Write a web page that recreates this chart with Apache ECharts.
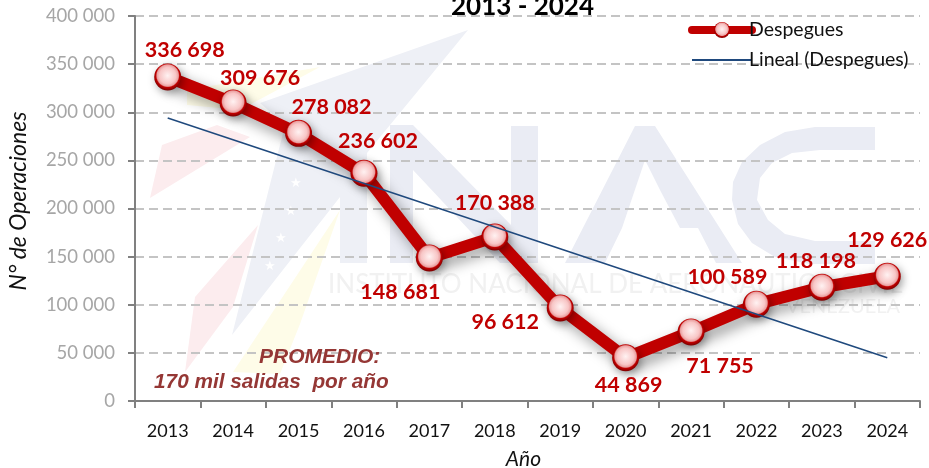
<!DOCTYPE html>
<html><head><meta charset="utf-8">
<style>html,body{margin:0;padding:0;background:#fff}#c{width:929px;height:468px}</style>
<script src="https://cdn.jsdelivr.net/npm/echarts@6/dist/echarts.min.js"></script>
</head><body><div id="c"></div>
<script>
const years=['2013','2014','2015','2016','2017','2018','2019','2020','2021','2022','2023','2024'];
const despegues=[336698,309676,278082,236602,148681,170388,96612,44869,71755,100589,118198,129626];
const lineal=[294000,null,null,null,null,null,null,null,null,null,null,45000];
const labelOffsets=[[17,-27],[27,-25],[33,-26],[14,-32],[-29,34],[0,-34],[-55,14],[3,27],[29,34],[-29,-27],[-6,-26],[0,-36]];
const fmt=v=>String(v).replace(/\B(?=(\d{3})+$)/g,' ');
const poly=(pts,fill)=>({type:'polygon',silent:true,z:-10,shape:{points:pts},style:{fill}});
const wm=(x,y,text,size,fill)=>({type:'text',silent:true,z:-10,x,y,style:{text,fill,font:`${size}px Lato`,verticalAlign:'middle'}});
const BLUE='#eaecf4',SWOOSH='#eef0f6',RED='#fcecee',YEL='#fefce8',GR='#f1f1f1';
const chart=echarts.init(document.getElementById('c'));
chart.setOption({
 animation:false,
 textStyle:{fontFamily:'Lato'},
 title:{text:'2013 - 2024',left:446,top:-11,textStyle:{fontFamily:'Lato',fontWeight:'bold',fontSize:26,color:'#000'}},
 grid:{left:135,right:9,top:16,bottom:67,outerBoundsMode:'none'},
 legend:{orient:'vertical',left:683,top:15,itemWidth:60,itemHeight:20,itemGap:10,
  textStyle:{fontFamily:'Lato',fontSize:19.5,color:'#111',padding:[0,0,0,-8]},
  data:[{name:'Despegues',lineStyle:{width:8,cap:'round',color:'#c00000'}},
        {name:'Lineal (Despegues)',icon:'path://M0 0H60V2H0Z'}]},
 graphic:[
  poly([[150,198],[162,145],[217,125],[250,137]],RED),
  poly([[195,297],[258,225],[233,307],[185,372]],RED),
  poly([[187,105],[187,90],[320,67],[240,110]],YEL),
  poly([[233,372],[340,210],[300,324],[280,374]],YEL),
  poly([[468,30],[260,103],[285,125],[232,335],[340,197],[340,263],[367,263],[367,153]],SWOOSH),
  poly([[390,125],[413,125],[511,225],[511,263],[500,263],[413,170],[413,263],[390,263]],BLUE),
  poly([[511,126],[538,126],[538,263],[511,263]],BLUE),
  poly([[635,126],[655,126],[742,263],[716,263],[698,228],[622,228],[605,263],[565,263]],BLUE),
  poly([[875,127],[815,127],[785,132],[760,145],[742,162],[733,182],[732,200],[738,224],[752,243],[775,257],[810,264],[875,264],[875,241],[815,241],[785,234],[768,220],[757,200],[760,178],[772,163],[792,153],[820,150],[875,150]],BLUE),
  poly([[645,160],[660,190],[680,228],[622,228]],'#ffffff'),
  wm(290,183,'★',13,'#ffffff'),wm(285,211,'★',13,'#ffffff'),wm(275,238,'★',13,'#ffffff'),wm(264,266,'★',13,'#ffffff'),
  wm(328,285,'INSTITUTO NACIONAL DE AERONÁUTICA CIVIL',26,GR),
  wm(786,307,'VENEZUELA',20,GR),
  {type:'text',silent:true,z:5,x:259,y:357,style:{text:'PROMEDIO:',fill:'#953735',font:'italic bold 21px "Liberation Sans"',verticalAlign:'middle'}},
  {type:'text',silent:true,z:5,x:154,y:382,style:{text:'170 mil salidas  por año',fill:'#953735',font:'italic bold 20.8px "Liberation Sans"',verticalAlign:'middle'}}
 ],
 xAxis:{type:'category',data:years,boundaryGap:true,name:'Año',nameLocation:'middle',nameGap:48,
  nameTextStyle:{fontFamily:'Lato',fontStyle:'italic',fontSize:21,color:'#111',padding:[0,8,0,0]},
  axisLine:{lineStyle:{color:'#808080',width:2}},
  axisTick:{show:true,length:7,alignWithLabel:false,lineStyle:{color:'#808080',width:2}},
  axisLabel:{color:'#111',fontSize:18,margin:21,fontFamily:'Lato'},splitLine:{show:false}},
 yAxis:{type:'value',min:0,max:400000,interval:50000,name:'N° de Operaciones',nameLocation:'middle',nameGap:105,nameRotate:90,
  nameTextStyle:{fontFamily:'Lato',fontStyle:'italic',fontSize:23,color:'#111',padding:[0,0,0,15]},
  axisLine:{show:true,lineStyle:{color:'#808080',width:2}},
  axisTick:{show:true,length:7,lineStyle:{color:'#808080',width:2}},
  axisLabel:{color:'#a6a6a6',fontSize:18.5,margin:20,fontFamily:'Lato',formatter:fmt},
  splitLine:{show:true,lineStyle:{color:'#c4c4c4',type:[9,5],width:2}}},
 series:[
  {name:'Despegues',type:'line',z:3,data:despegues.map((v,i)=>({value:v,label:{offset:labelOffsets[i]}})),
   symbol:'circle',symbolSize:27,showAllSymbols:true,
   lineStyle:{color:'#c00000',width:12,shadowColor:'rgba(0,0,0,.4)',shadowBlur:14,shadowOffsetX:5,shadowOffsetY:6},
   itemStyle:{color:{type:'radial',x:.5,y:.45,r:.55,colorStops:[{offset:0,color:'#fff2f2'},{offset:.55,color:'#f8c6c6'},{offset:.72,color:'#e9a0a0'},{offset:.8,color:'#c00000'},{offset:1,color:'#7a0000'}]},
    borderWidth:0,shadowColor:'rgba(0,0,0,.35)',shadowBlur:8,shadowOffsetX:2,shadowOffsetY:3},
   label:{show:true,position:'inside',color:'#c00000',fontWeight:'bold',fontSize:21.5,fontFamily:'Lato',formatter:p=>fmt(p.value)}},
  {name:'Lineal (Despegues)',type:'line',z:4,data:lineal,connectNulls:true,symbol:'none',showSymbol:false,
   lineStyle:{color:'#1f497d',width:1.5},itemStyle:{color:'#1f497d'}}
 ]
});
</script></body></html>
